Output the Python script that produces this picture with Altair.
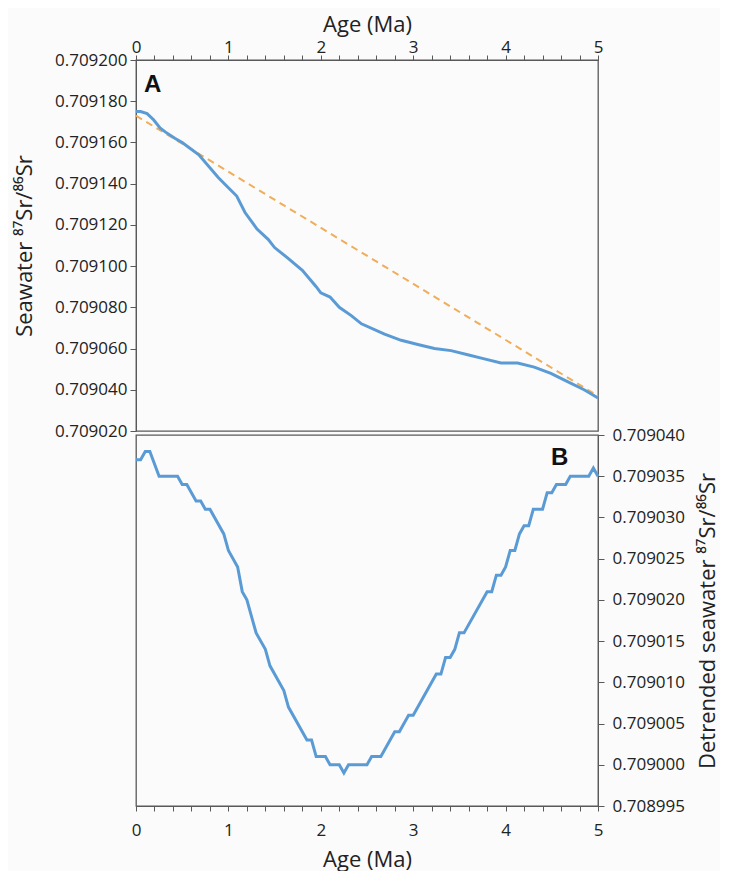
import altair as alt
import pandas as pd

# Panel A: seawater 87Sr/86Sr versus age
age_a = [0.0, 0.05, 0.12, 0.19, 0.26, 0.32, 0.42, 0.50, 0.68, 0.89, 1.00, 1.09,
         1.18, 1.31, 1.43, 1.50, 1.64, 1.80, 1.95, 2.00, 2.10, 2.20, 2.33, 2.44,
         2.69, 2.87, 3.05, 3.23, 3.41, 3.59, 3.77, 3.95, 4.13, 4.31, 4.49, 4.67,
         4.85, 5.00]
sr_a = [0.709175, 0.709175, 0.709174, 0.709171, 0.709167, 0.709165, 0.709162,
        0.709160, 0.709154, 0.709143, 0.709138, 0.709134, 0.709126, 0.709118,
        0.709113, 0.709109, 0.709104, 0.709098, 0.709090, 0.709087, 0.709085,
        0.709080, 0.709076, 0.709072, 0.709067, 0.709064, 0.709062, 0.709060,
        0.709059, 0.709057, 0.709055, 0.709053, 0.709053, 0.709051, 0.709048,
        0.709044, 0.709040, 0.709036]

# Linear trend (dashed)
trend_age = [0.0, 5.0]
trend_sr = [0.709173, 0.709037]

# Panel B: detrended seawater 87Sr/86Sr
age_b = [0.0, 0.05, 0.10, 0.15, 0.25, 0.45, 0.50, 0.55, 0.65, 0.70, 0.75, 0.80,
         0.95, 1.00, 1.10, 1.15, 1.20, 1.30, 1.40, 1.45, 1.60, 1.65, 1.85, 1.90,
         1.95, 2.05, 2.10, 2.20, 2.25, 2.30, 2.50, 2.55, 2.65, 2.80, 2.85, 2.95,
         3.00, 3.25, 3.30, 3.35, 3.40, 3.45, 3.50, 3.55, 3.80, 3.85, 3.90, 3.95,
         4.00, 4.05, 4.10, 4.15, 4.20, 4.25, 4.30, 4.40, 4.45, 4.50, 4.55, 4.65,
         4.70, 4.90, 4.95, 5.00]
sr_b = [0.709037, 0.709037, 0.709038, 0.709038, 0.709035, 0.709035, 0.709034,
        0.709034, 0.709032, 0.709032, 0.709031, 0.709031, 0.709028, 0.709026,
        0.709024, 0.709021, 0.709020, 0.709016, 0.709014, 0.709012, 0.709009,
        0.709007, 0.709003, 0.709003, 0.709001, 0.709001, 0.709000, 0.709000,
        0.708999, 0.709000, 0.709000, 0.709001, 0.709001, 0.709004, 0.709004,
        0.709006, 0.709006, 0.709011, 0.709011, 0.709013, 0.709013, 0.709014,
        0.709016, 0.709016, 0.709021, 0.709021, 0.709023, 0.709023, 0.709024,
        0.709026, 0.709026, 0.709028, 0.709029, 0.709029, 0.709031, 0.709031,
        0.709033, 0.709033, 0.709034, 0.709034, 0.709035, 0.709035, 0.709036,
        0.709035]

# Panel letters (in data units)
letters = ["A", "B"]
letter_age = [0.087, 4.49]
letter_sr = [0.7091845, 0.7090364]

x_tick_values = [round(i * 0.2, 1) for i in range(26)]
ya_ticks = [round(0.70902 + i * 0.00002, 6) for i in range(10)]
yb_ticks = [round(0.708995 + i * 0.000005, 6) for i in range(10)]

df_a = pd.DataFrame({"age": age_a, "sr": sr_a})
df_t = pd.DataFrame({"age": trend_age, "sr": trend_sr})
df_b = pd.DataFrame({"age": age_b, "sr": sr_b})
df_la = pd.DataFrame({"age": [letter_age[0]], "sr": [letter_sr[0]], "t": [letters[0]]})
df_lb = pd.DataFrame({"age": [letter_age[1]], "sr": [letter_sr[1]], "t": [letters[1]]})

W, H = 462, 371
BLUE = "#5b9bd5"
ORANGE = "#f0ad5a"
AXIS = "#595959"
TXT = "#222222"
FONT = "Open Sans"

label_expr = "abs(datum.value - round(datum.value)) < 0.001 ? format(round(datum.value), 'd') : ''"
x_scale = alt.Scale(domain=[0, 5], nice=False, zero=False)
ya_scale = alt.Scale(domain=[0.70902, 0.7092], nice=False, zero=False)
yb_scale = alt.Scale(domain=[0.708995, 0.70904], nice=False, zero=False)

common_axis = dict(grid=False, domainColor=AXIS, tickColor=AXIS, labelFont=FONT,
                   labelFontSize=17, labelColor=TXT, titleFont=FONT,
                   titleFontSize=22, titleFontWeight="normal", titleColor=TXT,
                   labelOverlap=False, labelFlush=False, labelBound=False)

x_top = alt.X("age:Q", scale=x_scale,
              axis=alt.Axis(orient="top", title="Age (Ma)", values=x_tick_values,
                            labelExpr=label_expr, tickSize=5, labelPadding=-1,
                            titlePadding=2, **common_axis))
x_bot = alt.X("age:Q", scale=x_scale,
              axis=alt.Axis(orient="bottom", title="Age (Ma)", values=x_tick_values,
                            labelExpr=label_expr, tickSize=5, labelPadding=11,
                            titlePadding=11, **common_axis))
y_a = alt.Y("sr:Q", scale=ya_scale,
            axis=alt.Axis(orient="left", title="Seawater ⁸⁷Sr/⁸⁶Sr", values=ya_ticks,
                          format=".6f", tickSize=6, labelPadding=3, titlePadding=18,
                          **common_axis))
y_b = alt.Y("sr:Q", scale=yb_scale,
            axis=alt.Axis(orient="right", title="Detrended seawater ⁸⁷Sr/⁸⁶Sr",
                          values=yb_ticks, format=".6f", tickSize=6, labelPadding=8,
                          titlePadding=13, titleAngle=270, titleBaseline="top",
                          **common_axis))

line_a = alt.Chart(df_a).mark_line(color=BLUE, strokeWidth=3).encode(x=x_top, y=y_a)
trend = alt.Chart(df_t).mark_line(color=ORANGE, strokeWidth=2, strokeDash=[7, 5]).encode(
    x=x_top, y=y_a)
text_a = alt.Chart(df_la).mark_text(font="Liberation Sans", fontWeight="bold", fontSize=24,
                                    align="left", baseline="alphabetic", color="#111111").encode(
    x=x_top, y=y_a, text="t:N")
panel_a = alt.layer(trend, line_a, text_a).properties(width=W, height=H)

line_b = alt.Chart(df_b).mark_line(color=BLUE, strokeWidth=3).encode(x=x_bot, y=y_b)
text_b = alt.Chart(df_lb).mark_text(font="Liberation Sans", fontWeight="bold", fontSize=24,
                                    align="left", baseline="alphabetic", color="#111111").encode(
    x=x_bot, y=y_b, text="t:N")
panel_b = alt.layer(line_b, text_b).properties(width=W, height=H)

chart = alt.vconcat(panel_a, panel_b, spacing=4, bounds="flush").resolve_scale(
    x="independent", y="independent").properties(
    padding={"left": 4, "top": 4, "right": 0, "bottom": 0},
    background="#fbfbfb",
).configure_view(stroke=AXIS, strokeWidth=1.3).configure_axis(labelOverlap=False)

chart.save("out.html", embed_options={"renderer": "svg", "actions": False})
